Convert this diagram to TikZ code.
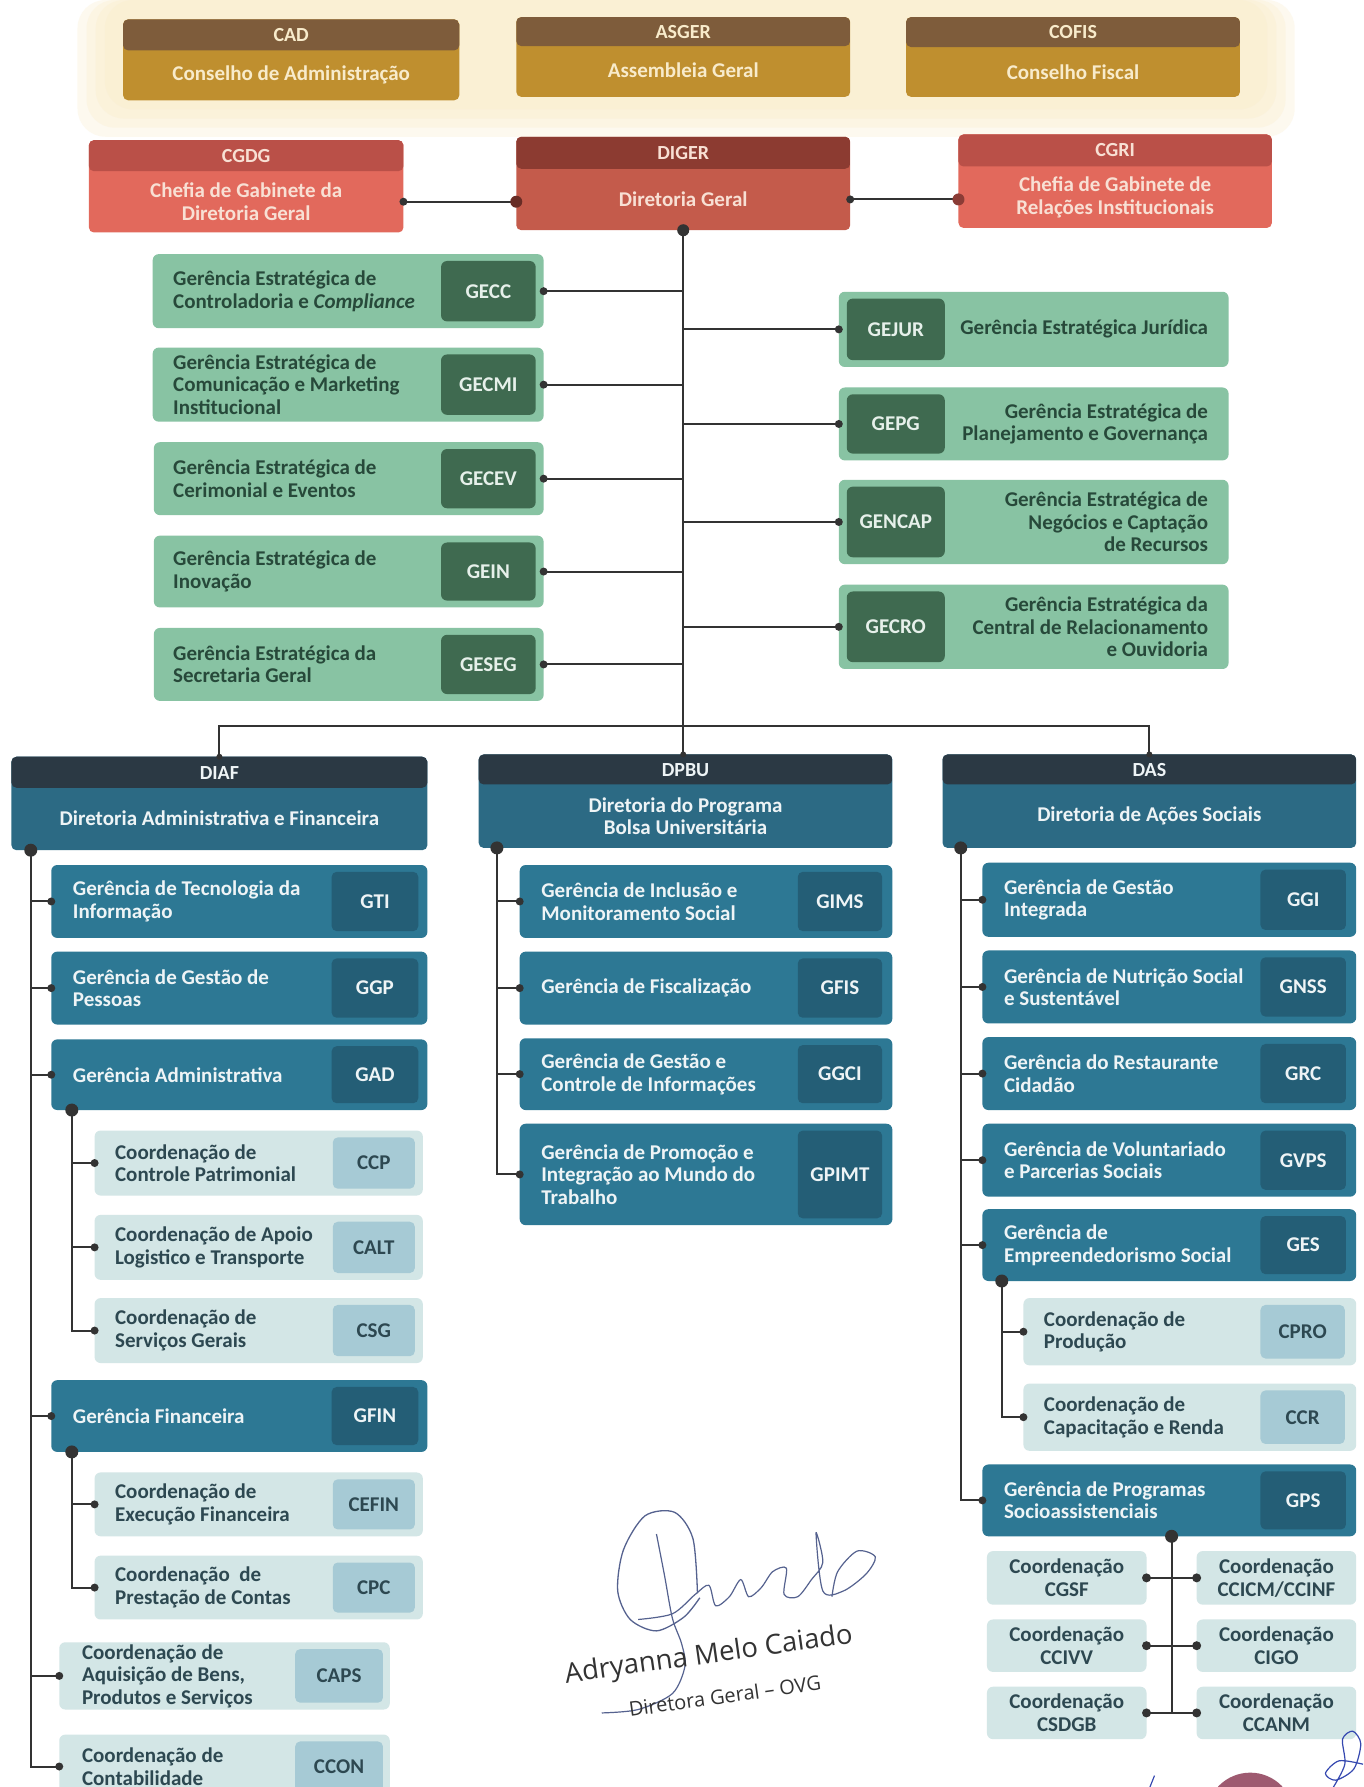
\documentclass[tikz,border=0pt]{standalone}
\usepackage{fontspec}
\setmainfont{Carlito}
\newfontfamily\sigfont{Open Sans}
\usetikzlibrary{calc}
\definecolor{linec}{HTML}{333333}
\definecolor{goldH}{HTML}{7E5C3B}
\definecolor{goldB}{HTML}{BF8F2F}
\definecolor{goldT}{HTML}{F8EBCB}
\definecolor{digH}{HTML}{8C3B31}
\definecolor{digB}{HTML}{C45B4B}
\definecolor{cgH}{HTML}{BA5048}
\definecolor{cgB}{HTML}{E2695C}
\definecolor{redT}{HTML}{F8E0D4}
\definecolor{grB}{HTML}{88C3A3}
\definecolor{grC}{HTML}{3F6A50}
\definecolor{grT}{HTML}{27493A}
\definecolor{grCT}{HTML}{E6F0EA}
\definecolor{dirH}{HTML}{2B3944}
\definecolor{dirB}{HTML}{2C6A84}
\definecolor{mgB}{HTML}{2D7894}
\definecolor{mgC}{HTML}{245E76}
\definecolor{wT}{HTML}{EEF4F6}
\definecolor{coB}{HTML}{D3E6E6}
\definecolor{coC}{HTML}{A6CAD5}
\definecolor{coT}{HTML}{2D4851}
\definecolor{glow}{HTML}{FAEBC6}
\definecolor{ink}{HTML}{55628F}
\definecolor{sealc}{HTML}{9E5A70}
\definecolor{blueink}{HTML}{3548B0}
\definecolor{sigT}{HTML}{333333}
\newcommand\ftb{\fontsize{21}{22.5}\selectfont\bfseries}
\newcommand\fth{\fontsize{20}{22}\selectfont\bfseries}
\newcommand\scl{1.1396}
\newcommand\bx[7]{\node[#6, minimum width={((#4)-(#2))*\scl}, minimum height={((#5)-(#3))*\scl}] (#1) at ({((#2)+(#4))/2},{((#3)+(#5))/2}) {#7};}
\newcommand\mg[9]{\bx{#1}{#2}{#3}{#4}{#5}{#6}{}\bx{#1c}{#7}{(#3)+6}{#8}{(#5)-6}{#6c}{#9}}
\tikzset{
  every node/.style={inner sep=0pt, outer sep=0pt},
  conn/.style={draw=linec, line width=2pt},
  hbox/.style n args={3}{fill=#2, rounded corners=5pt,
    path picture={\fill[#1] (path picture bounding box.north west) rectangle ([yshift=-#3pt]path picture bounding box.north east);}},
  gbox/.style={fill=grB, rounded corners=6pt},
  gboxc/.style={fill=grC, rounded corners=6pt, text=grCT, font=\ftb},
  mbox/.style={fill=mgB, rounded corners=6pt},
  mboxc/.style={fill=mgC, rounded corners=5pt, text=wT, font=\ftb},
  cbox/.style={fill=coB, rounded corners=6pt},
  cboxc/.style={fill=coC, rounded corners=5pt, text=coT, font=\ftb},
  gtxt/.style={text=grT, font=\ftb},
  mtxt/.style={text=wT, font=\ftb},
  ctxt/.style={text=coT, font=\ftb},
  htxt/.style={font=\fth},
  btxt/.style={font=\ftb, align=center},
  dot/.style={fill=linec},
}
\begin{document}
\begin{tikzpicture}[x=1.1396pt, y=-1.1396pt]
\useasboundingbox (0,0) rectangle (1196,1568);
\fill[white] (0,0) rectangle (1196,1568);
\foreach \d in {0,8,16,24}{\fill[glow, opacity=0.28, rounded corners=28pt] ({92-\d},0) rectangle ({1112+\d},{96+\d});}

% ---------- top row
\bx{cad}{108}{17}{403}{88}{hbox={goldH}{goldB}{31}}{}
\node[htxt, text=goldT] (cadH) at (255.5,30.5) {CAD};
\node[btxt, text=goldT] (cadB) at (255.5,66) {Conselho de Administração};
\bx{asger}{453}{15}{746}{85}{hbox={goldH}{goldB}{29}}{}
\node[htxt, text=goldT] (asgerH) at (599.5,28) {ASGER};
\node[btxt, text=goldT] (asgerB) at (599.5,62) {Assembleia Geral};
\bx{cofis}{795}{15}{1088}{85}{hbox={goldH}{goldB}{30}}{}
\node[htxt, text=goldT] (cofisH) at (941.5,28.5) {COFIS};
\node[btxt, text=goldT] (cofisB) at (941.5,63) {Conselho Fiscal};

% ---------- second row
\bx{cgdg}{78}{123}{354}{204}{hbox={cgH}{cgB}{31}}{}
\node[htxt, text=redT] (cgdgH) at (216,136.5) {CGDG};
\node[btxt, text=redT] (cgdgB) at (216,177) {Chefia de Gabinete da\\Diretoria Geral};
\bx{diger}{453}{120}{746}{202}{hbox={digH}{digB}{32}}{}
\node[htxt, text=redT] (digerH) at (599.5,134) {DIGER};
\node[btxt, text=redT] (digerB) at (599.5,175) {Diretoria Geral};
\bx{cgri}{841}{118}{1116}{200}{hbox={cgH}{cgB}{32}}{}
\node[htxt, text=redT] (cgriH) at (978.5,132) {CGRI};
\node[btxt, text=redT] (cgriB) at (978.5,173) {Chefia de Gabinete de\\Relações Institucionais};

% ---------- strategic managements, left
\mg{gecc}{134}{223}{477}{288}{gbox}{387}{470}{GECC}
\node[gtxt, anchor=west, align=left] (gecct) at ($(gecc.west)+(18,0)$) {Gerência Estratégica de\\Controladoria e \textit{Compliance}};
\mg{gecmi}{134}{305}{477}{370}{gbox}{387}{470}{GECMI}
\node[gtxt, anchor=west, align=left] (gecmit) at ($(gecmi.west)+(18,0)$) {Gerência Estratégica de\\Comunicação e Marketing\\Institucional};
\mg{gecev}{135}{388}{477}{452}{gbox}{387}{470}{GECEV}
\node[gtxt, anchor=west, align=left] (gecevt) at ($(gecev.west)+(17,0)$) {Gerência Estratégica de\\Cerimonial e Eventos};
\mg{gein}{135}{470}{477}{533}{gbox}{387}{470}{GEIN}
\node[gtxt, anchor=west, align=left] (geint) at ($(gein.west)+(17,0)$) {Gerência Estratégica de\\Inovação};
\mg{geseg}{135}{551}{477}{615}{gbox}{387}{470}{GESEG}
\node[gtxt, anchor=west, align=left] (gesegt) at ($(geseg.west)+(17,0)$) {Gerência Estratégica da\\Secretaria Geral};

% ---------- strategic managements, right
\mg{gejur}{736}{256}{1078}{322}{gbox}{743}{829}{GEJUR}
\node[gtxt, anchor=east, align=right] (gejurt) at ($(gejur.east)+(-18,0)$) {Gerência Estratégica Jurídica};
\mg{gepg}{736}{340}{1078}{404}{gbox}{743}{829}{GEPG}
\node[gtxt, anchor=east, align=right] (gepgt) at ($(gepg.east)+(-18,0)$) {Gerência Estratégica de\\Planejamento e Governança};
\mg{gencap}{736}{421}{1078}{495}{gbox}{743}{829}{GENCAP}
\node[gtxt, anchor=east, align=right] (gencapt) at ($(gencap.east)+(-18,0)$) {Gerência Estratégica de\\Negócios e Captação\\de Recursos};
\mg{gecro}{736}{513}{1078}{587}{gbox}{743}{829}{GECRO}
\node[gtxt, anchor=east, align=right] (gecrot) at ($(gecro.east)+(-18,0)$) {Gerência Estratégica da\\Central de Relacionamento\\e Ouvidoria};

% ---------- directorates
\bx{diaf}{10}{664}{375}{746}{hbox={dirH}{dirB}{31}}{}
\node[htxt, text=wT] (diafH) at (192.5,678) {DIAF};
\node[btxt, text=wT] (diafB) at (192.5,718) {Diretoria Administrativa e Financeira};
\bx{dpbu}{420}{662}{783}{744}{hbox={dirH}{dirB}{30}}{}
\node[htxt, text=wT] (dpbuH) at (601.5,676) {DPBU};
\node[btxt, text=wT] (dpbuB) at (601.5,716) {Diretoria do Programa\\Bolsa Universitária};
\bx{das}{827}{662}{1190}{744}{hbox={dirH}{dirB}{30}}{}
\node[htxt, text=wT] (dasH) at (1008.5,676) {DAS};
\node[btxt, text=wT] (dasB) at (1008.5,716) {Diretoria de Ações Sociais};

% ---------- DIAF
\mg{gti}{45}{759}{375}{823}{mbox}{291}{367}{GTI}
\node[mtxt, anchor=west, align=left] (gtit) at ($(gti.west)+(19,0)$) {Gerência de Tecnologia da\\Informação};
\mg{ggp}{45}{835}{375}{899}{mbox}{291}{367}{GGP}
\node[mtxt, anchor=west, align=left] (ggpt) at ($(ggp.west)+(19,0)$) {Gerência de Gestão de\\Pessoas};
\mg{gad}{45}{912}{375}{974}{mbox}{291}{367}{GAD}
\node[mtxt, anchor=west, align=left] (gadt) at ($(gad.west)+(19,0)$) {Gerência Administrativa};
\mg{ccp}{83}{992}{371}{1049}{cbox}{292}{364}{CCP}
\node[ctxt, anchor=west, align=left] (ccpt) at ($(ccp.west)+(18,0)$) {Coordenação de\\Controle Patrimonial};
\mg{calt}{83}{1066}{371}{1123}{cbox}{292}{364}{CALT}
\node[ctxt, anchor=west, align=left] (caltt) at ($(calt.west)+(18,0)$) {Coordenação de Apoio\\Logistico e Transporte};
\mg{csg}{83}{1139}{371}{1196}{cbox}{292}{364}{CSG}
\node[ctxt, anchor=west, align=left] (csgt) at ($(csg.west)+(18,0)$) {Coordenação de\\Serviços Gerais};
\mg{gfin}{45}{1211}{375}{1274}{mbox}{291}{367}{GFIN}
\node[mtxt, anchor=west, align=left] (gfint) at ($(gfin.west)+(19,0)$) {Gerência Financeira};
\mg{cefin}{83}{1292}{371}{1348}{cbox}{292}{364}{CEFIN}
\node[ctxt, anchor=west, align=left] (cefint) at ($(cefin.west)+(18,0)$) {Coordenação de\\Execução Financeira};
\mg{cpc}{83}{1365}{371}{1421}{cbox}{292}{364}{CPC}
\node[ctxt, anchor=west, align=left] (cpct) at ($(cpc.west)+(18,0)$) {Coordenação \ de\\Prestação de Contas};
\mg{caps}{52}{1441}{342}{1500}{cbox}{259}{336}{CAPS}
\node[ctxt, anchor=west, align=left] (capst) at ($(caps.west)+(20,0)$) {Coordenação de\\Aquisição de Bens,\\Produtos e Serviços};
\mg{ccon}{52}{1522}{342}{1578}{cbox}{259}{336}{CCON}
\node[ctxt, anchor=west, align=left] (ccont) at ($(ccon.west)+(20,0)$) {Coordenação de\\Contabilidade};

% ---------- DPBU
\mg{gims}{456}{759}{783}{823}{mbox}{700}{774}{GIMS}
\node[mtxt, anchor=west, align=left] (gimst) at ($(gims.west)+(19,0)$) {Gerência de Inclusão e\\Monitoramento Social};
\mg{gfis}{456}{835}{783}{899}{mbox}{700}{774}{GFIS}
\node[mtxt, anchor=west, align=left] (gfist) at ($(gfis.west)+(19,0)$) {Gerência de Fiscalização};
\mg{ggci}{456}{911}{783}{974}{mbox}{700}{774}{GGCI}
\node[mtxt, anchor=west, align=left] (ggcit) at ($(ggci.west)+(19,0)$) {Gerência de Gestão e\\Controle de Informações};
\mg{gpimt}{456}{986}{783}{1075}{mbox}{700}{774}{GPIMT}
\node[mtxt, anchor=west, align=left] (gpimtt) at ($(gpimt.west)+(19,0)$) {Gerência de Promoção e\\Integração ao Mundo do\\Trabalho};

% ---------- DAS
\mg{ggi}{862}{757}{1190}{822}{mbox}{1106}{1181}{GGI}
\node[mtxt, anchor=west, align=left] (ggit) at ($(ggi.west)+(19,0)$) {Gerência de Gestão\\Integrada};
\mg{gnss}{862}{834}{1190}{898}{mbox}{1106}{1181}{GNSS}
\node[mtxt, anchor=west, align=left] (gnsst) at ($(gnss.west)+(19,0)$) {Gerência de Nutrição Social\\e Sustentável};
\mg{grc}{862}{910}{1190}{974}{mbox}{1106}{1181}{GRC}
\node[mtxt, anchor=west, align=left] (grct) at ($(grc.west)+(19,0)$) {Gerência do Restaurante\\Cidadão};
\mg{gvps}{862}{986}{1190}{1050}{mbox}{1106}{1181}{GVPS}
\node[mtxt, anchor=west, align=left] (gvpst) at ($(gvps.west)+(19,0)$) {Gerência de Voluntariado\\e Parcerias Sociais};
\mg{ges}{862}{1061}{1190}{1124}{mbox}{1106}{1181}{GES}
\node[mtxt, anchor=west, align=left] (gest) at ($(ges.west)+(19,0)$) {Gerência de\\Empreendedorismo Social};
\mg{cpro}{898}{1139}{1190}{1198}{cbox}{1106}{1180}{CPRO}
\node[ctxt, anchor=west, align=left] (cprot) at ($(cpro.west)+(18,0)$) {Coordenação de\\Produção};
\mg{ccr}{898}{1214}{1190}{1273}{cbox}{1106}{1180}{CCR}
\node[ctxt, anchor=west, align=left] (ccrt) at ($(ccr.west)+(18,0)$) {Coordenação de\\Capacitação e Renda};
\mg{gps}{862}{1285}{1190}{1348}{mbox}{1106}{1181}{GPS}
\node[mtxt, anchor=west, align=left] (gpst) at ($(gps.west)+(19,0)$) {Gerência de Programas\\Socioassistenciais};

\bx{cgsf}{866}{1361}{1006}{1408}{cbox, ctxt, align=center}{Coordenação\\CGSF}
\bx{ccicm}{1050}{1361}{1190}{1408}{cbox, ctxt, align=center}{Coordenação\\CCICM/CCINF}
\bx{ccivv}{866}{1421}{1006}{1467}{cbox, ctxt, align=center}{Coordenação\\CCIVV}
\bx{cigo}{1050}{1421}{1190}{1467}{cbox, ctxt, align=center}{Coordenação\\CIGO}
\bx{csdgb}{866}{1480}{1006}{1526}{cbox, ctxt, align=center}{Coordenação\\CSDGB}
\bx{ccanm}{1050}{1480}{1190}{1526}{cbox, ctxt, align=center}{Coordenação\\CCANM}

% ---------- connectors
\draw[conn] (cgdg.east |- cgdgB) -- (diger.west |- cgdgB);
\fill[dot] (cgdg.east |- cgdgB) circle (4pt);
\fill[digH!75!black] (diger.west |- cgdgB) circle (6pt);
\draw[conn] (diger.east |- digerB) -- (cgri.west |- digerB);
\fill[dot] (diger.east |- digerB) circle (4pt);
\fill[cgH!75!black] (cgri.west |- digerB) circle (6pt);

\coordinate (hub) at (599.5,637);
\draw[conn] (diger.south) -- (hub);
\foreach \n in {gecc,gecmi,gecev,gein,geseg}{
  \draw[conn] (\n.east) -- (\n.east -| diger.south);
  \fill[dot] (\n.east) circle (4pt);
}
\foreach \n in {gejur,gepg,gencap,gecro}{
  \draw[conn] (\n.west) -- (\n.west -| diger.south);
  \fill[dot] (\n.west) circle (4pt);
}
\fill[dot] (diger.south) circle (6pt);
\draw[conn] (diaf.north) |- (hub) -| (das.north);
\draw[conn] (hub) -- (hub |- dpbu.north);
\fill[dot] (diaf.north) circle (3pt);
\fill[dot] (hub |- dpbu.north) circle (3pt);
\fill[dot] (das.north) circle (3pt);

% DIAF
\coordinate (diafT) at (27,746);
\draw[conn] (diafT) |- (ccon.west);
\foreach \n in {gti,ggp,gad,gfin,caps}{\draw[conn] (diafT |- \n.west) -- (\n.west);}
\foreach \n in {gti,ggp,gad,gfin,caps,ccon}{\fill[dot] (\n.west) circle (4pt);}
\fill[dot] (diafT) circle (6.5pt);
\coordinate (gadT) at (63,974);
\draw[conn] (gadT) |- (csg.west);
\foreach \n in {ccp,calt}{\draw[conn] (gadT |- \n.west) -- (\n.west);}
\foreach \n in {ccp,calt,csg}{\fill[dot] (\n.west) circle (4pt);}
\fill[dot] (gadT) circle (6.5pt);
\coordinate (gfinT) at (63,1274);
\draw[conn] (gfinT) |- (cpc.west);
\draw[conn] (gfinT |- cefin.west) -- (cefin.west);
\foreach \n in {cefin,cpc}{\fill[dot] (\n.west) circle (4pt);}
\fill[dot] (gfinT) circle (6.5pt);

% DPBU
\coordinate (dpbuT) at (436,744);
\draw[conn] (dpbuT) |- (gpimt.west);
\foreach \n in {gims,gfis,ggci}{\draw[conn] (dpbuT |- \n.west) -- (\n.west);}
\foreach \n in {gims,gfis,ggci,gpimt}{\fill[dot] (\n.west) circle (4pt);}
\fill[dot] (dpbuT) circle (6.5pt);

% DAS
\coordinate (dasT) at (843,744);
\draw[conn] (dasT) |- (gps.west);
\foreach \n in {ggi,gnss,grc,gvps,ges}{\draw[conn] (dasT |- \n.west) -- (\n.west);}
\foreach \n in {ggi,gnss,grc,gvps,ges,gps}{\fill[dot] (\n.west) circle (4pt);}
\fill[dot] (dasT) circle (6.5pt);
\coordinate (gesT) at (879,1124);
\draw[conn] (gesT) |- (ccr.west);
\draw[conn] (gesT |- cpro.west) -- (cpro.west);
\foreach \n in {cpro,ccr}{\fill[dot] (\n.west) circle (4pt);}
\fill[dot] (gesT) circle (6.5pt);
\coordinate (gpsT) at (1028,1348);
\draw[conn] (gpsT) -- (gpsT |- csdgb.east);
\draw[conn] (cgsf.east) -- (ccicm.west);
\draw[conn] (ccivv.east) -- (cigo.west);
\draw[conn] (csdgb.east) -- (ccanm.west);
\foreach \n in {cgsf,ccivv,csdgb}{\fill[dot] (\n.east) circle (4.5pt);}
\foreach \n in {ccicm,cigo,ccanm}{\fill[dot] (\n.west) circle (4.5pt);}
\fill[dot] (gpsT) circle (6.5pt);

% ---------- signature
\draw[ink, line width=1.3pt] plot[smooth] coordinates {(612,1398) (608,1350) (592,1327) (566,1330) (547,1360) (542,1396) (553,1421) (576,1431) (600,1419) (614,1402)};
\draw[ink, line width=1.2pt] plot[smooth] coordinates {(576,1346) (583,1382) (590,1420) (598,1442) (601,1462) (590,1486) (560,1500) (528,1503)};
\draw[ink, line width=1.2pt] plot[smooth] coordinates {(560,1421) (590,1416) (610,1399) (622,1391) (628,1409) (640,1401) (650,1386) (657,1401) (668,1393) (678,1379) (690,1376) (688,1399) (700,1401) (712,1386) (722,1371) (716,1345) (722,1396) (740,1396) (760,1381) (768,1366) (752,1361) (735,1379) (730,1401)};
\node[font={\sigfont\fontsize{27.5}{29}\selectfont}, text=sigT, rotate=8] (sig1) at (622,1453) {Adryanna Melo Caiado};
\node[font={\sigfont\fontsize{20}{22}\selectfont}, text=sigT, rotate=8] (sig2) at (636,1488) {Diretora Geral – OVG};

% ---------- seal and marks
\begin{scope}
\clip (0,0) rectangle (1196,1568);
\fill[sealc] (1097,1594) circle (44pt);
\draw[blueink, line width=1.2pt] plot[smooth] coordinates {(1170,1568) (1180,1548) (1178,1526) (1187,1519) (1194,1530) (1188,1552) (1172,1562) (1163,1556) (1175,1545) (1196,1548)};
\draw[blueink, line width=1.2pt] (1009,1568) -- (1013,1558);
\end{scope}
\end{tikzpicture}
\end{document}
